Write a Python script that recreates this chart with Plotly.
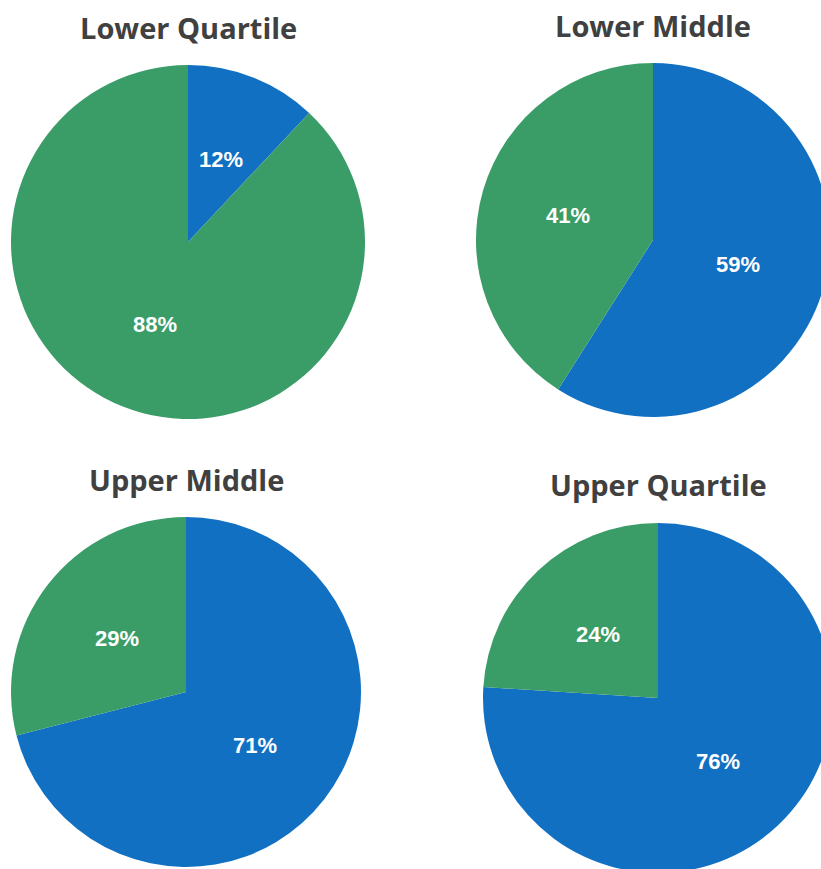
import math
import plotly.graph_objects as go

titles = ["Lower Quartile", "Lower Middle", "Upper Middle", "Upper Quartile"]
categories = ["Blue group", "Green group"]
blue_values = [12, 59, 71, 76]
green_values = [88, 41, 29, 24]

W, H = 836, 876
BLUE = "#1170c2"
GREEN = "#3a9d68"

# pie centers and radii in pixels (figure coords)
centers = [(188, 242), (653, 240), (186, 692), (658, 698)]
radii = [177, 177, 175, 175]
title_pos = [(188, 27), (653, 25), (186, 479), (658, 485)]

fig = go.Figure()
for i, t in enumerate(titles):
    cx, cy = centers[i]
    r = radii[i]
    vals = [blue_values[i], green_values[i]]
    fig.add_trace(go.Pie(
        labels=categories,
        values=vals,
        sort=False,
        direction="clockwise",
        rotation=0,
        marker=dict(colors=[BLUE, GREEN], line=dict(width=0)),
        textinfo="none",
        domain=dict(x=[(cx - r) / W, (cx + r) / W], y=[1 - (cy + r) / H, 1 - (cy - r) / H]),
        showlegend=False,
        hoverinfo="label+percent",
    ))
    tx, ty = title_pos[i]
    fig.add_annotation(
        text="<b>%s</b>" % t, x=tx / W, y=1 - ty / H, xref="paper", yref="paper",
        showarrow=False, xanchor="center", yanchor="middle",
        font=dict(family="Open Sans, sans-serif", size=29, color="#404040"),
    )
    total = sum(vals)
    cum = 0
    for v in vals:
        mid = (cum + v / 2) / total * 2 * math.pi
        cum += v
        lx = cx + 0.5 * r * math.sin(mid)
        ly = cy - 0.5 * r * math.cos(mid)
        fig.add_annotation(
            text="<b>%d%%</b>" % round(100 * v / total), x=lx / W, y=1 - ly / H,
            xref="paper", yref="paper", showarrow=False,
            xanchor="center", yanchor="middle",
            font=dict(family="Liberation Sans, Arial, sans-serif", size=22, color="white"),
        )

fig.update_layout(
    width=W, height=H,
    margin=dict(l=0, r=0, t=0, b=0),
    paper_bgcolor="white", plot_bgcolor="white",
)
fig.write_html(
    "out.html",
    config={"displayModeBar": False},
    post_script=(
        "document.documentElement.style.overflow='hidden';"
        "document.body.style.overflow='hidden';"
        "document.body.style.margin='0';"
    ),
)
